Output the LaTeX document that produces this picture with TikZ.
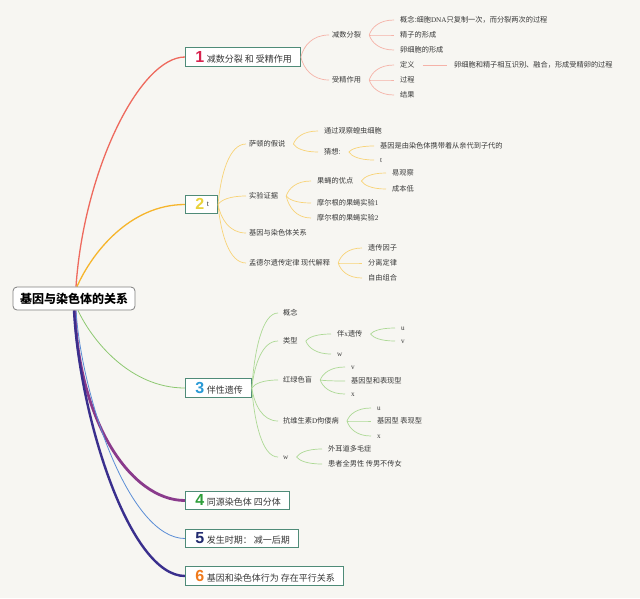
\documentclass[tikz,border=0pt]{standalone}
\usepackage{fontspec}
\setmainfont{Noto Sans CJK SC}
\newfontfamily\lat{Liberation Serif}
\newfontfamily\numf{Liberation Sans}
\usetikzlibrary{calc}
\definecolor{bg}{HTML}{F7F6F2}
\definecolor{txt}{HTML}{383838}
\definecolor{boxc}{HTML}{4F8B78}
\definecolor{c1}{HTML}{EE6A5E}
\definecolor{c1l}{HTML}{F5B2A8}
\definecolor{c2}{HTML}{F6B52C}
\definecolor{c2l}{HTML}{F8D377}
\definecolor{c3}{HTML}{8CC870}
\definecolor{c3l}{HTML}{ADD995}
\definecolor{c4}{HTML}{8A3B8C}
\definecolor{c5}{HTML}{5B8ED6}
\definecolor{c6}{HTML}{3A2F8D}
\definecolor{n1}{HTML}{D8234F}
\definecolor{n2}{HTML}{E9D23C}
\definecolor{n3}{HTML}{2A9AD6}
\definecolor{n4}{HTML}{2E9E3A}
\definecolor{n5}{HTML}{222B70}
\definecolor{n6}{HTML}{F07A1C}
\newcommand\mybx[3]{\kern10pt\textcolor{#1}{\numf\bfseries\fontsize{16}{16}\selectfont #2}\kern2.5pt#3\kern8.5pt\relax}
\pgfdeclarelayer{bgl}
\pgfdeclarelayer{back}
\pgfsetlayers{bgl,back,main}
\tikzset{
  fan/.style={to path={let \p1=(\tikztostart), \p2=(\tikztotarget) in
     .. controls ({\x1+0.1*(\x2-\x1)},{\y1+0.5*(\y2-\y1)}) and ({\x1+0.4*(\x2-\x1)},\y2) .. (\tikztotarget)}},
  lbl/.style={anchor=west, inner xsep=0pt, inner ysep=1pt, text height=6pt, text depth=0.5pt,
     font=\fontsize{7.2}{8}\selectfont, text=txt},
  bx/.style={draw=boxc, line width=0.9pt, fill=white, anchor=west, minimum height=18.5pt,
     inner xsep=0pt, inner ysep=0pt, text height=11.5pt, text depth=1pt,
     font=\fontsize{9}{10}\selectfont, text=txt},
  rootbox/.style={draw=black!50, line width=0.8pt, fill=white, rounded corners=4pt,
     minimum width=122pt, minimum height=23pt, inner xsep=7pt,
     font=\fontsize{12}{13}\selectfont\bfseries, text=black},
  s1/.style={c1l, line width=0.7pt},
  s2/.style={c2l, line width=0.7pt},
  s3/.style={c3l, line width=0.7pt},
}
\begin{document}
\begin{tikzpicture}[x=1pt,y=-1pt]
\begin{pgfonlayer}{bgl}
\fill[bg] (0,0) rectangle (640,598);
\end{pgfonlayer}
\useasboundingbox (0,0) rectangle (640,598);

% root and main boxes
\node[rootbox] (root) at (74,298.5) {基因与染色体的关系};
\node[bx] (b1) at (185,57) {\mybx{n1}{1}{减数分裂 和 受精作用}};
\node[bx] (b2) at (185,204.5) {\mybx{n2}{2}{\raisebox{3pt}{\lat\fontsize{8}{9}\selectfont t}}};
\node[bx] (b3) at (185,388) {\mybx{n3}{3}{伴性遗传}};
\node[bx] (b4) at (185,500.5) {\mybx{n4}{4}{同源染色体 四分体}};
\node[bx] (b5) at (185,538.5) {\mybx{n5}{5}{发生时期： 减一后期}};
\node[bx] (b6) at (185,576) {\mybx{n6}{6}{基因和染色体行为 存在平行关系}};

\begin{pgfonlayer}{back}
\draw[c1, line width=1.3pt] ([xshift=2pt]root.north) .. controls +(8,-117) and +(-45,0) .. (b1.west);
\draw[c2, line width=1.3pt] ([xshift=3pt]root.north) .. controls +(15,-34) and +(-55,0) .. (b2.west);
\draw[c3, line width=0.8pt] ([xshift=4pt]root.south) .. controls +(14,30) and +(-55,0) .. (b3.west);
\draw[c4, line width=2.8pt] ([xshift=1pt]root.south) .. controls +(3,109) and +(-55,0) .. (b4.west);
\draw[c5, line width=0.8pt] ([xshift=2pt]root.south) .. controls +(6,89) and +(-55,0) .. (b5.west);
\draw[c6, line width=2.4pt] ([xshift=0pt]root.south) .. controls +(6,109) and +(-55,0) .. (b6.west);
\end{pgfonlayer}

% ---- branch 1
\node[lbl] (a1) at (332,35) {减数分裂};
\node[lbl] (a2) at (332,80) {受精作用};
\node[lbl] (a11) at (400,20) {概念:细胞{\lat DNA}只复制一次，而分裂两次的过程};
\node[lbl] (a12) at (400,35) {精子的形成};
\node[lbl] (a13) at (400,50) {卵细胞的形成};
\node[lbl] (a21) at (400,65) {定义};
\node[lbl] (a211) at (454,65) {卵细胞和精子相互识别、融合，形成受精卵的过程};
\node[lbl] (a22) at (400,80) {过程};
\node[lbl] (a23) at (400,95) {结果};
\foreach \c in {a1,a2} \draw[s1] (b1.east) to[fan] ([xshift=-3pt]\c.west);
\foreach \c in {a11,a12,a13} \draw[s1] ([xshift=8pt]a1.east) to[fan] ([xshift=-6pt]\c.west);
\foreach \c in {a21,a22,a23} \draw[s1] ([xshift=8pt]a2.east) to[fan] ([xshift=-6pt]\c.west);
\draw[s1] ([xshift=8pt]a21.east) -- ([xshift=-7pt]a211.west);

% ---- branch 2
\node[lbl] (e1) at (249,144) {萨顿的假说};
\node[lbl] (e2) at (249,196) {实验证据};
\node[lbl] (e3) at (249,233) {基因与染色体关系};
\node[lbl] (e4) at (249,263) {孟德尔遗传定律 现代解释};
\node[lbl] (e11) at (324,131) {通过观察蝗虫细胞};
\node[lbl] (e12) at (324,152) {猜想:};
\node[lbl] (e121) at (380,146) {基因是由染色体携带着从亲代到子代的};
\node[lbl] (e122) at (380,160) {{\lat t}};
\node[lbl] (e21) at (317,181) {果蝇的优点};
\node[lbl] (e211) at (392,173) {易观察};
\node[lbl] (e212) at (392,189) {成本低};
\node[lbl] (e22) at (317,203) {摩尔根的果蝇实验{\lat 1}};
\node[lbl] (e23) at (317,218) {摩尔根的果蝇实验{\lat 2}};
\node[lbl] (e41) at (368,248) {遗传因子};
\node[lbl] (e42) at (368,263) {分离定律};
\node[lbl] (e43) at (368,278) {自由组合};
\foreach \c in {e1,e2,e3,e4} \draw[s2] (b2.east) to[fan] ([xshift=-3pt]\c.west);
\foreach \c in {e11,e12} \draw[s2] ([xshift=8pt]e1.east) to[fan] ([xshift=-6pt]\c.west);
\foreach \c in {e121,e122} \draw[s2] ([xshift=8pt]e12.east) to[fan] ([xshift=-6pt]\c.west);
\foreach \c in {e21,e22,e23} \draw[s2] ([xshift=8pt]e2.east) to[fan] ([xshift=-6pt]\c.west);
\foreach \c in {e211,e212} \draw[s2] ([xshift=8pt]e21.east) to[fan] ([xshift=-6pt]\c.west);
\foreach \c in {e41,e42,e43} \draw[s2] ([xshift=8pt]e4.east) to[fan] ([xshift=-6pt]\c.west);

% ---- branch 3
\node[lbl] (g1) at (283,313) {概念};
\node[lbl] (g2) at (283,341) {类型};
\node[lbl] (g3) at (283,380) {红绿色盲};
\node[lbl] (g4) at (283,421) {抗维生素{\lat D}佝偻病};
\node[lbl] (g5) at (283,457) {{\lat w}};
\node[lbl] (g21) at (337,334) {伴{\lat x}遗传};
\node[lbl] (g22) at (337,354) {{\lat w}};
\node[lbl] (g211) at (401,328) {{\lat u}};
\node[lbl] (g212) at (401,341) {{\lat v}};
\node[lbl] (g31) at (351,367) {{\lat v}};
\node[lbl] (g32) at (351,381) {基因型和表现型};
\node[lbl] (g33) at (351,394) {{\lat x}};
\node[lbl] (g41) at (377,408) {{\lat u}};
\node[lbl] (g42) at (377,421) {基因型 表现型};
\node[lbl] (g43) at (377,436) {{\lat x}};
\node[lbl] (g51) at (328,449) {外耳道多毛症};
\node[lbl] (g52) at (328,464) {患者全男性 传男不传女};
\foreach \c in {g1,g2,g3,g4,g5} \draw[s3] (b3.east) to[fan] ([xshift=-5pt]\c.west);
\foreach \c in {g21,g22} \draw[s3] ([xshift=8pt]g2.east) to[fan] ([xshift=-6pt]\c.west);
\foreach \c in {g211,g212} \draw[s3] ([xshift=8pt]g21.east) to[fan] ([xshift=-6pt]\c.west);
\foreach \c in {g31,g32,g33} \draw[s3] ([xshift=8pt]g3.east) to[fan] ([xshift=-6pt]\c.west);
\foreach \c in {g41,g42,g43} \draw[s3] ([xshift=8pt]g4.east) to[fan] ([xshift=-6pt]\c.west);
\foreach \c in {g51,g52} \draw[s3] ([xshift=8pt]g5.east) to[fan] ([xshift=-6pt]\c.west);
\end{tikzpicture}
\end{document}
